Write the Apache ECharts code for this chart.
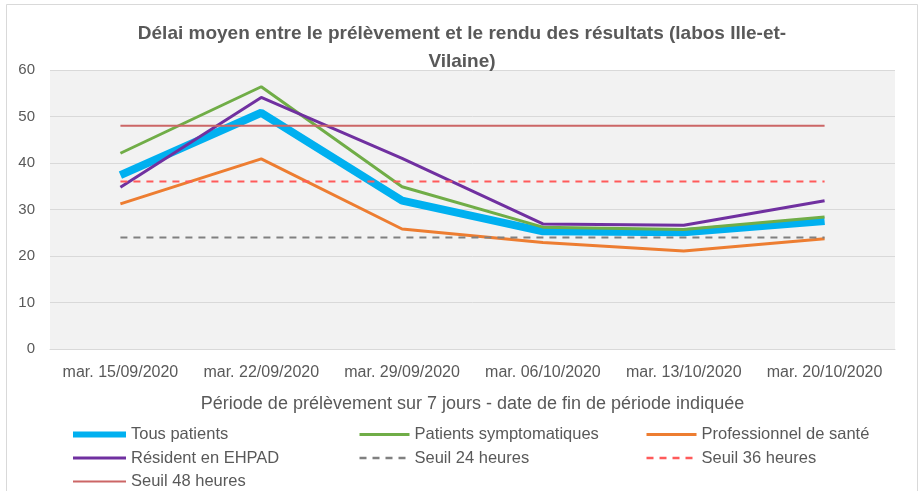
<!DOCTYPE html>
<html>
<head>
<meta charset="utf-8">
<script src="https://cdn.jsdelivr.net/npm/echarts@6/dist/echarts.min.js"></script>
<style>
  html, body { margin: 0; padding: 0; background: #fff; }
  #chart { width: 924px; height: 491px; }
</style>
</head>
<body>
<div id="chart"></div>
<script>
var categories = ['mar. 15/09/2020', 'mar. 22/09/2020', 'mar. 29/09/2020', 'mar. 06/10/2020', 'mar. 13/10/2020', 'mar. 20/10/2020'];
var tousPatients = [37.4, 50.8, 31.9, 25.3, 25.1, 27.5];
var symptomatiques = [42.1, 56.4, 34.9, 26.2, 25.7, 28.4];
var professionnels = [31.2, 40.9, 25.8, 22.9, 21.1, 23.7];
var ehpad = [34.8, 54.1, 41.0, 26.9, 26.6, 31.9];
var seuil24 = [24, 24, 24, 24, 24, 24];
var seuil36 = [36, 36, 36, 36, 36, 36];
var seuil48 = [48, 48, 48, 48, 48, 48];
var yTicks = [0, 10, 20, 30, 40, 50, 60];

var font = "'Liberation Sans', Arial, sans-serif";
var grey = '#595959';

var styles = {
	'Tous patients': { color: '#00b0f0', width: 8, legendWidth: 6 },
	'Patients symptomatiques': { color: '#70ad47', width: 3, legendWidth: 3 },
	'Professionnel de santé': { color: '#ed7d31', width: 3, legendWidth: 3 },
	'Résident en EHPAD': { color: '#7030a0', width: 3, legendWidth: 3 },
	'Seuil 24 heures': { color: '#808080', width: 2, legendWidth: 2.5, type: [7, 6] },
	'Seuil 36 heures': { color: '#ff5a5a', width: 2, legendWidth: 2.5, type: [7, 6] },
	'Seuil 48 heures': { color: '#cc6666', width: 2, legendWidth: 2 }
};

function line(name, data) {
	var s = styles[name];
	return {
		name: name,
		type: 'line',
		data: data,
		symbol: 'none',
		smooth: false,
		lineStyle: {
			color: s.color,
			width: s.width,
			type: s.type || 'solid'
		},
		itemStyle: { color: s.color },
		emphasis: { disabled: true }
	};
}

function legendCol(left, width, names) {
	return {
		orient: 'vertical',
		left: left,
		top: 426,
		height: 70,
		padding: 0,
		itemWidth: width,
		itemHeight: 14,
		itemGap: 6.5,
		itemStyle: { opacity: 0 },
		textStyle: { color: grey, fontSize: 16.5, fontFamily: font },
		data: names.map(function (n) {
			var s = styles[n];
			return {
				name: n,
				lineStyle: { color: s.color, width: s.legendWidth, type: s.type || 'solid' }
			};
		})
	};
}

var chart = echarts.init(document.getElementById('chart'));
var option = {
	animation: false,
	backgroundColor: '#fff',
	textStyle: { fontFamily: font },
	title: {
		text: 'Délai moyen entre le prélèvement et le rendu des résultats (labos Ille-et-\nVilaine)',
		left: 'center',
		top: 15,
		textStyle: {
			color: grey,
			fontFamily: font,
			fontWeight: 'bold',
			fontSize: 19,
			lineHeight: 28
		}
	},
	graphic: [{
		type: 'rect',
		shape: { x: 6.5, y: 4.5, width: 911, height: 492 },
		style: { fill: 'none', stroke: '#d9d9d9', lineWidth: 1 },
		silent: true
	}],
	grid: {
		left: 50,
		right: 29,
		top: 70,
		bottom: 142,
		show: true,
		backgroundColor: '#f2f2f2',
		borderWidth: 0
	},
	legend: [
		legendCol(70, 53, ['Tous patients', 'Résident en EHPAD', 'Seuil 48 heures']),
		legendCol(358, 50, ['Patients symptomatiques', 'Seuil 24 heures']),
		legendCol(645, 50, ['Professionnel de santé', 'Seuil 36 heures'])
	],
	xAxis: {
		type: 'category',
		data: categories,
		boundaryGap: true,
		name: 'Période de prélèvement sur 7 jours - date de fin de période indiquée',
		nameLocation: 'middle',
		nameGap: 46,
		nameTextStyle: { color: grey, fontSize: 18, fontFamily: font },
		axisLine: { show: true, lineStyle: { color: '#d9d9d9', width: 1 } },
		axisTick: { show: false },
		axisLabel: { color: grey, fontSize: 16, fontFamily: font, margin: 16, interval: 0 }
	},
	yAxis: {
		type: 'value',
		min: yTicks[0],
		max: yTicks[yTicks.length - 1],
		interval: 10,
		axisLine: { show: false },
		axisTick: { show: false },
		axisLabel: { color: grey, fontSize: 15, fontFamily: font, margin: 15 },
		splitLine: { show: true, lineStyle: { color: '#d9d9d9', width: 1 } }
	},
	series: [
		line('Tous patients', tousPatients),
		line('Patients symptomatiques', symptomatiques),
		line('Professionnel de santé', professionnels),
		line('Résident en EHPAD', ehpad),
		line('Seuil 24 heures', seuil24),
		line('Seuil 36 heures', seuil36),
		line('Seuil 48 heures', seuil48)
	]
};
chart.setOption(option);
</script>
</body>
</html>
